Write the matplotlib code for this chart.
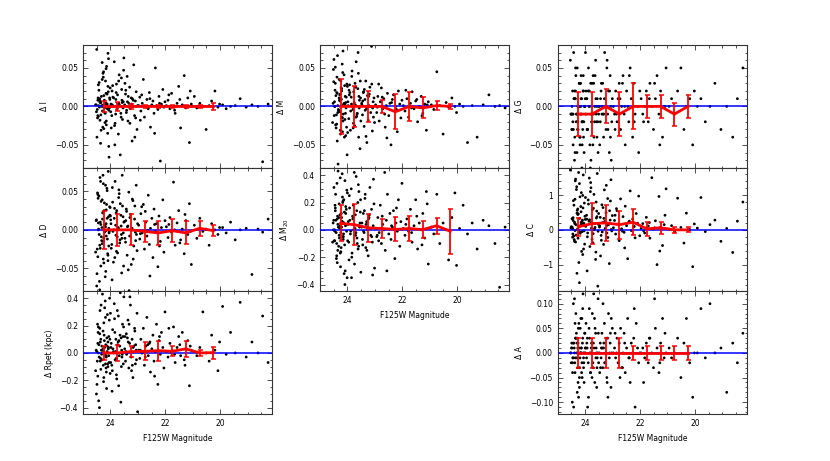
import matplotlib
matplotlib.use("Agg")
import matplotlib.pyplot as plt
from matplotlib.ticker import MultipleLocator, AutoMinorLocator

# F125W magnitudes of the galaxies (same sample in every panel)
mag = [
    24.52, 24.48, 24.45, 24.41, 24.38, 24.35, 24.31, 24.28, 24.25, 24.22,
    24.19, 24.16, 24.13, 24.10, 24.07, 24.04, 24.01, 24.50, 24.46, 24.43,
    24.39, 24.36, 24.33, 24.29, 24.26, 24.23, 24.20, 24.17, 24.14, 24.11,
    24.08, 24.05, 24.02, 24.54, 24.47, 24.44, 24.40, 24.37, 24.34, 24.30,
    24.27, 24.24, 24.21, 24.18, 24.15, 24.12, 24.09, 24.06, 24.03, 24.49,
    24.42, 24.32, 24.44, 24.37, 24.27, 24.21, 24.15, 24.09, 24.51, 24.39,
    24.30, 24.24, 24.18, 24.12, 24.06, 24.00, 24.46, 24.35, 24.26, 24.16,
    23.98, 23.95, 23.92, 23.89, 23.86, 23.83, 23.80, 23.77, 23.74, 23.71,
    23.68, 23.65, 23.62, 23.59, 23.56, 23.53, 23.51, 23.97, 23.93, 23.88,
    23.84, 23.79, 23.75, 23.70, 23.66, 23.61, 23.57, 23.52, 23.99, 23.91,
    23.85, 23.78, 23.72, 23.64, 23.58, 23.54, 23.94, 23.81, 23.69, 23.60,
    23.48, 23.45, 23.42, 23.39, 23.36, 23.33, 23.30, 23.27, 23.24, 23.21,
    23.18, 23.15, 23.12, 23.09, 23.06, 23.03, 23.01, 23.47, 23.41, 23.35,
    23.29, 23.23, 23.17, 23.11, 23.05, 23.44, 23.32, 23.20, 23.08, 23.38,
    22.97, 22.93, 22.89, 22.84, 22.80, 22.76, 22.71, 22.67, 22.62, 22.58,
    22.54, 22.49, 22.45, 22.41, 22.36, 22.32, 22.27, 22.23, 22.18, 22.14,
    22.09, 22.05, 22.01, 22.91, 22.73, 22.56, 22.39, 22.21, 22.86, 22.64,
    21.96, 21.90, 21.83, 21.77, 21.70, 21.64, 21.57, 21.51, 21.44, 21.38,
    21.31, 21.25, 21.18, 21.12, 21.05, 21.87, 21.66, 21.47, 21.28, 21.09,
    20.94, 20.85, 20.74, 20.63, 20.51, 20.40, 20.31, 20.19, 20.08, 20.02,
    19.91, 19.78, 19.62, 19.45, 19.27, 19.05, 18.84, 18.62, 18.45, 18.25,
]

d_I = [
    0.002, -0.004, 0.011, 0.031, -0.018, 0.005, 0.000, -0.027, 0.045, 0.008,
    -0.009, 0.017, 0.003, -0.035, 0.062, -0.002, 0.024, 0.074, -0.012, 0.001,
    0.006, -0.048, 0.013, -0.006, 0.038, 0.000, -0.021, 0.004, 0.052, -0.003,
    0.019, -0.066, 0.009, 0.002, -0.015, 0.028, -0.001, 0.007, -0.031, 0.057,
    0.000, 0.014, -0.008, 0.033, -0.024, 0.003, 0.069, -0.005, 0.011, -0.040,
    0.021, 0.001, -0.013, 0.005, 0.043, -0.002, -0.019, 0.026, -0.007, 0.010,
    0.035, -0.029, 0.004, 0.016, -0.052, 0.000, 0.008, -0.011, 0.002, 0.049,
    0.003, -0.012, 0.027, 0.000, 0.058, -0.022, 0.009, -0.004, 0.015, -0.036,
    0.041, 0.001, -0.009, 0.022, -0.017, 0.006, 0.063, -0.028, 0.002, 0.011,
    -0.050, 0.018, -0.003, 0.033, 0.000, -0.014, 0.005, 0.047, -0.007, 0.012,
    -0.025, 0.029, 0.001, -0.063, 0.008, -0.002, 0.020, -0.010, 0.004, 0.037,
    0.002, 0.016, -0.008, 0.039, -0.019, 0.004, 0.025, -0.003, 0.011, -0.045,
    0.000, 0.054, -0.012, 0.007, 0.019, -0.030, 0.001, 0.030, -0.005, 0.013,
    -0.022, 0.003, 0.008, -0.040, 0.000, 0.021, -0.001, 0.010, -0.015, 0.006,
    0.001, 0.012, -0.006, 0.004, 0.035, -0.014, 0.000, 0.009, -0.003, 0.018,
    -0.027, 0.002, 0.007, -0.009, 0.050, 0.001, -0.004, 0.013, -0.071, 0.003,
    0.022, -0.001, 0.006, -0.018, 0.000, 0.010, -0.035, 0.004, 0.015, -0.002,
    0.001, 0.008, -0.003, 0.017, 0.000, -0.009, 0.004, 0.026, -0.028, 0.002,
    0.040, -0.002, 0.011, -0.047, 0.003, 0.015, -0.005, 0.009, 0.000, 0.020,
    0.013, -0.002, 0.004, 0.000, -0.030, 0.001, 0.007, 0.020, -0.001, 0.003,
    0.002, -0.003, 0.000, 0.001, 0.010, -0.001, 0.002, 0.000, -0.072, 0.003,
]

d_D = [
    0.012, -0.025, 0.041, -0.006, 0.068, -0.047, 0.003, 0.022, -0.015, 0.035,
    -0.061, 0.008, 0.054, -0.031, 0.017, -0.002, 0.029, -0.073, 0.046, 0.001,
    -0.020, 0.063, -0.009, 0.014, -0.038, 0.025, 0.005, -0.054, 0.033, -0.012,
    0.076, -0.004, 0.019, -0.029, 0.048, 0.000, -0.067, 0.010, 0.037, -0.018,
    0.023, -0.043, 0.006, 0.058, -0.008, 0.015, -0.033, 0.002, 0.030, -0.057,
    0.044, -0.014, 0.009, -0.024, 0.071, -0.003, 0.026, -0.040, 0.013, -0.078,
    0.039, -0.011, 0.004, 0.051, -0.021, 0.018, -0.035, 0.007, 0.060, -0.001,
    0.008, -0.019, 0.036, -0.042, 0.015, 0.063, -0.007, 0.025, -0.030, 0.002,
    0.047, -0.013, 0.019, -0.056, 0.031, -0.004, 0.010, -0.024, 0.055, 0.000,
    -0.036, 0.022, -0.009, 0.042, -0.017, 0.005, 0.071, -0.047, 0.013, -0.002,
    0.028, -0.028, 0.003, 0.034, -0.011, 0.017, -0.065, 0.006, 0.052, -0.006,
    0.011, -0.016, 0.027, -0.033, 0.005, 0.049, -0.008, 0.020, -0.045, 0.002,
    0.038, -0.021, 0.014, -0.003, 0.058, -0.027, 0.008, -0.011, 0.024, -0.052,
    0.016, 0.000, -0.038, 0.031, -0.006, 0.012, -0.079, 0.040, -0.014, 0.004,
    0.006, -0.012, 0.021, -0.004, 0.033, -0.025, 0.010, -0.008, 0.045, -0.019,
    0.002, 0.015, -0.036, 0.027, -0.002, 0.008, -0.048, 0.018, -0.015, 0.003,
    0.039, -0.029, 0.012, -0.005, 0.024, -0.060, 0.007, -0.021, 0.030, -0.001,
    0.004, -0.010, 0.016, -0.003, 0.062, -0.020, 0.009, 0.025, -0.013, 0.001,
    -0.031, 0.012, -0.006, 0.034, -0.045, 0.007, 0.000, -0.017, 0.020, -0.002,
    0.006, -0.011, 0.015, -0.002, 0.001, -0.020, 0.008, 0.000, -0.006, 0.003,
    0.003, -0.004, 0.010, -0.013, 0.000, 0.002, -0.058, 0.001, -0.003, 0.014,
]

d_Rpet = [
    0.02, -0.06, 0.15, -0.03, 0.31, -0.12, 0.05, 0.00, -0.21, 0.09,
    0.38, -0.02, 0.11, -0.08, 0.04, 0.24, -0.15, 0.01, 0.07, -0.35,
    0.18, -0.04, 0.02, 0.43, -0.09, 0.13, -0.01, 0.06, -0.26, 0.28,
    0.03, -0.07, 0.10, -0.13, 0.21, 0.00, -0.40, 0.08, 0.35, -0.05,
    0.16, -0.18, 0.04, 0.26, -0.03, 0.01, -0.10, 0.12, 0.40, -0.23,
    0.06, -0.01, 0.19, -0.06, 0.03, 0.33, -0.14, 0.08, -0.30, 0.14,
    0.00, 0.22, -0.08, 0.05, -0.02, 0.29, -0.17, 0.10, 0.02, -0.11,
    0.04, -0.09, 0.17, 0.01, 0.36, -0.05, 0.10, -0.19, 0.06, 0.27,
    -0.02, 0.13, -0.36, 0.02, 0.21, -0.08, 0.41, 0.07, -0.13, 0.00,
    0.15, -0.04, 0.31, -0.24, 0.05, 0.11, -0.01, 0.19, -0.07, 0.03,
    0.25, -0.16, 0.08, 0.44, -0.03, 0.12, -0.28, 0.01, 0.09, -0.10,
    0.03, -0.06, 0.14, 0.00, 0.24, -0.11, 0.07, 0.35, -0.03, 0.10,
    -0.18, 0.05, 0.18, -0.08, 0.02, 0.29, -0.43, 0.12, -0.01, 0.08,
    0.41, -0.13, 0.04, 0.16, -0.05, 0.01, 0.21, -0.09, 0.06, 0.11,
    0.02, -0.04, 0.10, 0.00, 0.18, -0.09, 0.05, 0.26, -0.02, 0.07,
    -0.14, 0.03, 0.13, -0.06, 0.01, 0.21, -0.23, 0.09, -0.01, 0.15,
    0.04, -0.11, 0.30, 0.02, -0.03, 0.08, -0.17, 0.12, 0.00, 0.06,
    0.01, -0.03, 0.07, 0.00, 0.19, -0.07, 0.04, 0.12, -0.02, 0.15,
    -0.05, 0.03, 0.09, -0.24, 0.02, 0.18, -0.01, 0.06, -0.09, 0.05,
    0.01, -0.02, 0.04, 0.30, 0.00, -0.06, 0.13, 0.02, -0.13, 0.08,
    0.34, -0.01, 0.15, 0.00, 0.37, -0.03, 0.08, 0.00, 0.27, -0.07,
]

d_M = [
    0.004, -0.012, 0.021, -0.028, 0.038, 0.001, -0.006, 0.015, -0.036, 0.009,
    0.055, -0.019, 0.003, 0.027, -0.009, 0.012, -0.063, 0.032, 0.000, -0.024,
    0.018, 0.066, -0.004, 0.008, -0.031, 0.024, -0.014, 0.044, 0.002, -0.040,
    0.013, -0.002, 0.029, -0.021, 0.006, 0.051, -0.011, 0.017, -0.075, 0.035,
    -0.007, 0.010, 0.023, -0.033, 0.001, 0.041, -0.017, 0.005, -0.027, 0.061,
    0.014, -0.005, 0.030, -0.045, 0.007, 0.020, -0.010, 0.002, 0.048, -0.023,
    0.011, 0.033, -0.015, 0.004, -0.038, 0.026, 0.000, -0.008, 0.016, 0.072,
    0.006, -0.016, 0.028, -0.031, 0.012, 0.046, -0.004, 0.019, -0.025, 0.002,
    0.058, -0.010, 0.023, -0.040, 0.008, 0.033, -0.019, 0.001, 0.015, -0.006,
    0.039, -0.028, 0.005, 0.025, -0.013, 0.070, -0.002, 0.011, -0.034, 0.018,
    0.003, -0.022, 0.030, -0.009, 0.013, -0.055, 0.021, 0.000, -0.014, 0.043,
    0.004, -0.011, 0.018, -0.026, 0.009, 0.033, -0.003, 0.014, -0.018, 0.001,
    0.025, -0.008, 0.078, -0.032, 0.006, 0.011, -0.021, 0.002, 0.019, -0.005,
    -0.047, 0.013, 0.000, 0.029, -0.014, 0.007, -0.039, 0.016, -0.002, 0.022,
    0.002, -0.008, 0.013, -0.019, 0.006, 0.024, -0.003, 0.010, -0.027, 0.001,
    0.017, -0.012, 0.004, -0.050, 0.009, 0.015, -0.006, 0.000, -0.033, 0.020,
    0.003, -0.015, 0.008, -0.001, 0.012, -0.041, 0.005, -0.004, 0.029, -0.010,
    0.001, -0.006, 0.010, -0.014, 0.004, 0.019, -0.003, 0.007, -0.020, 0.000,
    0.013, -0.009, 0.003, -0.031, 0.006, 0.021, -0.002, 0.009, -0.012, 0.002,
    0.002, -0.004, 0.045, 0.001, -0.036, 0.005, -0.001, 0.011, 0.000, -0.008,
    0.003, 0.000, -0.047, 0.001, -0.040, 0.002, 0.015, 0.000, 0.001, -0.002,
]

d_M20 = [
    0.05, -0.08, 0.18, -0.02, 0.34, -0.15, 0.09, 0.01, -0.27, 0.12,
    0.41, -0.05, 0.22, -0.11, 0.03, 0.15, -0.35, 0.07, -0.01, 0.26,
    -0.19, 0.10, 0.02, -0.06, 0.38, -0.13, 0.06, 0.20, -0.03, 0.13,
    -0.30, 0.04, 0.29, -0.09, 0.00, 0.16, -0.21, 0.08, 0.43, -0.04,
    0.11, -0.16, 0.02, 0.24, -0.07, 0.05, -0.40, 0.17, -0.01, 0.31,
    0.07, -0.12, 0.14, -0.24, 0.03, 0.09, -0.05, 0.36, 0.00, -0.10,
    0.19, -0.02, 0.06, -0.32, 0.12, 0.27, -0.08, 0.04, -0.17, 0.21,
    0.04, -0.09, 0.16, -0.03, 0.30, -0.17, 0.08, 0.00, -0.25, 0.11,
    0.39, -0.06, 0.20, -0.12, 0.02, 0.13, -0.31, 0.06, 0.25, -0.01,
    -0.20, 0.09, 0.42, -0.04, 0.14, -0.14, 0.03, 0.22, -0.08, 0.07,
    -0.35, 0.18, 0.01, -0.10, 0.28, 0.05, -0.22, 0.10, -0.02, 0.33,
    0.02, -0.07, 0.12, -0.02, 0.23, -0.13, 0.06, 0.00, -0.19, 0.09,
    0.31, -0.04, 0.15, -0.09, 0.03, 0.19, -0.28, 0.05, -0.01, 0.26,
    -0.15, 0.08, 0.01, -0.05, 0.37, -0.11, 0.04, 0.11, -0.33, 0.14,
    0.01, -0.05, 0.09, -0.02, 0.18, -0.10, 0.04, 0.00, -0.15, 0.07,
    0.26, -0.03, 0.12, -0.07, 0.02, 0.14, -0.21, 0.05, -0.01, 0.22,
    -0.12, 0.06, 0.34, -0.04, 0.10, -0.30, 0.03, 0.16, -0.08, 0.42,
    0.01, -0.04, 0.08, -0.01, 0.15, -0.09, 0.03, 0.22, -0.14, 0.05,
    0.00, 0.12, -0.06, 0.28, -0.25, 0.04, -0.02, 0.10, -0.11, 0.19,
    0.02, -0.03, 0.26, -0.10, 0.05, 0.00, -0.22, 0.09, 0.27, -0.26,
    0.01, 0.18, -0.03, 0.05, -0.14, 0.07, 0.03, -0.10, -0.42, 0.02,
]

d_G = [
    -0.01, 0.00, -0.02, 0.01, -0.04, 0.02, -0.01, -0.03, 0.00, 0.03,
    -0.05, -0.01, 0.01, -0.02, 0.04, -0.06, 0.00, -0.01, 0.02, -0.03,
    -0.07, 0.01, -0.02, 0.05, -0.01, 0.00, -0.04, 0.03, -0.01, -0.05,
    0.02, -0.02, 0.00, 0.06, -0.03, -0.01, 0.01, -0.06, 0.04, -0.02,
    0.00, -0.01, 0.03, -0.04, 0.01, -0.08, -0.02, 0.02, 0.00, -0.03,
    0.07, -0.01, -0.05, 0.01, -0.02, 0.00, 0.04, -0.03, -0.01, 0.02,
    -0.06, 0.00, 0.03, -0.02, -0.04, 0.01, -0.01, 0.05, -0.03, 0.00,
    -0.01, 0.01, -0.03, 0.02, 0.00, -0.05, 0.03, -0.02, -0.01, 0.04,
    -0.04, 0.00, 0.06, -0.02, 0.01, -0.06, -0.01, 0.02, -0.03, 0.05,
    0.00, -0.07, 0.03, -0.01, -0.02, 0.01, -0.04, 0.00, 0.07, -0.03,
    0.02, -0.01, -0.05, 0.04, 0.00, -0.02, 0.01, -0.08, 0.03, -0.01,
    0.00, -0.02, 0.02, -0.01, 0.03, -0.04, 0.01, 0.00, -0.03, 0.05,
    -0.01, 0.02, -0.06, 0.04, 0.00, -0.02, 0.01, -0.05, 0.03, -0.01,
    0.07, 0.00, -0.03, 0.02, -0.07, 0.01, -0.01, 0.06, -0.04, 0.00,
    0.00, -0.01, 0.02, -0.02, 0.01, 0.03, -0.03, 0.00, 0.04, -0.01,
    -0.05, 0.02, 0.00, -0.02, 0.05, 0.01, -0.04, 0.03, -0.01, 0.08,
    0.00, -0.06, 0.02, -0.03, 0.01, 0.00, 0.04, -0.02, -0.01, 0.03,
    0.01, -0.01, 0.00, 0.02, -0.02, 0.03, 0.00, -0.03, 0.01, 0.04,
    -0.01, 0.02, -0.04, 0.00, 0.05, -0.02, 0.01, 0.03, -0.05, 0.00,
    0.00, 0.01, -0.01, 0.02, 0.05, -0.03, 0.00, 0.01, -0.05, 0.02,
    0.00, 0.01, -0.02, 0.00, 0.03, -0.03, 0.00, -0.04, 0.01, 0.05,
]

d_C = [
    0.05, 0.32, -0.12, 0.71, 0.18, -0.35, 1.24, 0.02, 0.46, -0.08,
    0.95, 0.14, -0.62, 0.28, 1.58, -0.03, 0.39, 0.09, -0.21, 0.84,
    0.22, 1.41, -0.15, 0.56, 0.01, -0.94, 0.33, 0.11, 1.07, -0.05,
    0.63, 0.19, -0.41, 1.72, 0.07, 0.27, -0.28, 0.88, 0.15, -1.25,
    0.44, 0.00, 1.33, -0.10, 0.52, 0.24, -0.71, 0.12, 0.77, 0.04,
    -0.18, 1.16, 0.35, -0.02, 0.60, -1.52, 0.21, 0.99, 0.08, -0.33,
    0.48, 1.65, -0.07, 0.16, -0.55, 0.30, 0.03, 1.46, -0.24, 0.67,
    0.10, 0.42, -0.20, 0.86, 0.25, -0.48, 1.36, 0.05, 0.58, -0.11,
    1.02, 0.18, -0.85, 0.34, 1.62, -0.04, 0.47, 0.13, -1.18, 0.74,
    0.29, 1.21, -0.27, 0.62, 0.02, -0.64, 0.38, 0.16, 0.93, -0.09,
    1.49, 0.21, -0.37, 0.07, 0.54, -1.62, 0.31, 1.10, 0.00, 0.80,
    0.08, 0.36, -0.16, 0.72, 0.21, -0.42, 1.15, 0.04, 0.49, -0.09,
    0.90, 0.15, -0.97, 0.28, 1.44, -0.03, 0.41, 0.11, -0.30, 0.64,
    0.24, 1.28, -0.22, 0.55, 0.01, -0.75, 0.33, 0.13, 0.83, -0.06,
    0.06, 0.27, -0.12, 0.55, 0.17, -0.31, 0.89, 0.03, 0.38, -0.07,
    0.68, 0.12, -0.83, 0.22, 1.12, -0.02, 0.31, 0.09, -0.23, 0.47,
    0.19, 0.97, -0.17, 0.42, 0.00, -0.52, 0.25, 0.10, 0.61, -0.04,
    0.04, 0.18, -0.09, 0.36, 0.11, -0.24, 1.50, 0.02, 0.26, -1.00,
    0.96, 0.08, -0.45, 0.15, 1.18, -0.03, 0.21, 0.06, -0.61, 0.42,
    0.02, 0.12, -0.06, 0.91, 0.07, -0.38, 0.48, 0.01, -1.06, 0.17,
    0.05, 0.93, -0.05, 0.15, 0.28, -0.33, 0.04, -0.65, 0.25, 0.80,
]

d_A = [
    0.00, 0.01, -0.01, 0.02, -0.02, 0.03, 0.00, -0.03, 0.05, 0.01,
    -0.01, 0.07, -0.04, 0.02, 0.00, -0.06, 0.04, 0.01, -0.02, 0.10,
    0.00, -0.01, 0.03, -0.08, 0.02, 0.06, -0.03, 0.00, 0.01, -0.05,
    0.12, -0.02, 0.04, 0.00, -0.10, 0.02, 0.01, -0.04, 0.08, -0.01,
    0.03, 0.00, -0.07, 0.05, 0.01, -0.02, 0.09, -0.03, 0.00, 0.02,
    -0.11, 0.04, -0.01, 0.06, 0.01, -0.05, 0.00, 0.03, -0.02, 0.11,
    0.02, -0.09, 0.00, 0.07, -0.01, 0.01, -0.04, 0.03, -0.06, 0.00,
    0.01, -0.01, 0.03, -0.02, 0.05, 0.00, -0.04, 0.02, 0.08, -0.03,
    0.01, -0.06, 0.04, 0.00, -0.01, 0.11, -0.02, 0.06, 0.01, -0.09,
    0.03, 0.00, -0.05, 0.02, 0.07, -0.01, -0.03, 0.04, 0.00, -0.11,
    0.09, 0.01, -0.02, 0.05, -0.07, 0.00, 0.02, -0.04, 0.12, 0.01,
    0.00, 0.02, -0.01, 0.04, -0.03, 0.01, 0.06, -0.02, 0.00, -0.05,
    0.03, 0.08, -0.01, 0.02, -0.07, 0.00, 0.05, -0.04, 0.01, 0.10,
    -0.02, 0.03, -0.09, 0.00, 0.07, -0.03, 0.02, -0.06, 0.04, 0.01,
    0.00, 0.01, -0.01, 0.03, -0.02, 0.02, 0.05, -0.03, 0.00, 0.04,
    -0.04, 0.01, 0.07, -0.01, -0.06, 0.02, 0.00, 0.03, -0.11, 0.06,
    0.01, -0.02, 0.00, 0.04, -0.05, 0.02, -0.01, 0.09, 0.00, -0.03,
    0.00, 0.01, -0.01, 0.02, -0.02, 0.03, 0.00, -0.03, 0.05, 0.01,
    -0.04, 0.02, 0.07, -0.01, 0.00, -0.06, 0.03, 0.11, -0.02, 0.04,
    0.01, -0.01, 0.00, 0.03, -0.05, 0.02, 0.07, -0.02, -0.09, 0.00,
    0.00, 0.09, -0.01, 0.10, 0.00, 0.01, -0.08, 0.02, -0.02, 0.04,
]

# binned medians and scatter (red line with error bars)
bin_mag = [24.25, 23.75, 23.25, 22.75, 22.25, 21.75, 21.25, 20.75, 20.25]

med_I = [0.000, 0.000, 0.000, 0.000, 0.000, 0.000, 0.000, 0.000, 0.000]
err_I = [0.0075, 0.0058, 0.0037, 0.002, 0.0015, 0.0015, 0.0015, 0.0015, 0.0047]
med_D = [0.000, 0.000, 0.000, -0.002, -0.004, -0.001, -0.004, 0.002, -0.001]
err_D = [0.025, 0.021, 0.020, 0.014, 0.016, 0.015, 0.015, 0.010, 0.0075]
med_Rpet = [0.000, 0.000, 0.010, 0.012, 0.017, 0.012, 0.030, 0.000, 0.002]
err_Rpet = [0.050, 0.056, 0.040, 0.067, 0.073, 0.037, 0.057, 0.020, 0.043]
med_M = [0.000, 0.000, 0.000, 0.000, -0.007, 0.000, -0.002, 0.001, 0.000]
err_M = [0.036, 0.027, 0.020, 0.008, 0.023, 0.019, 0.0136, 0.006, 0.003]
med_M20 = [0.047, 0.038, 0.015, 0.010, 0.003, 0.010, 0.002, 0.030, -0.010]
err_M20 = [0.132, 0.149, 0.104, 0.073, 0.088, 0.089, 0.061, 0.057, 0.163]
med_G = [-0.01, -0.01, 0.00, -0.01, 0.00, 0.00, 0.00, -0.01, 0.00]
err_G = [0.029, 0.029, 0.022, 0.029, 0.030, 0.015, 0.015, 0.015, 0.015]
med_C = [0.09, 0.18, 0.20, 0.15, 0.22, 0.03, 0.06, 0.00, 0.00]
err_C = [0.26, 0.58, 0.52, 0.40, 0.37, 0.20, 0.18, 0.095, 0.076]
med_A = [0.00, 0.00, 0.00, 0.00, 0.00, 0.00, 0.00, 0.00, 0.00]
err_A = [0.030, 0.030, 0.030, 0.031, 0.014, 0.014, 0.014, 0.014, 0.014]

SPINE = "#333333"


def setup_axis(ax, ylabel, ylim, ystep, show_x):
    ax.set_xlim(25, 18.1)
    ax.set_ylim(-ylim, ylim)
    ax.xaxis.set_major_locator(MultipleLocator(2))
    ax.xaxis.set_minor_locator(MultipleLocator(0.5))
    ax.yaxis.set_major_locator(MultipleLocator(ystep))
    ax.yaxis.set_minor_locator(AutoMinorLocator())
    ax.tick_params(which="both", direction="in", top=True, right=True,
                   labelsize=5.5, color=SPINE, width=0.6)
    ax.tick_params(which="major", length=3.5)
    ax.tick_params(which="minor", length=1.8)
    for sp in ax.spines.values():
        sp.set_color(SPINE)
        sp.set_linewidth(0.8)
    ax.set_ylabel(ylabel, fontsize=5.5)
    if show_x:
        ax.set_xlabel("F125W Magnitude", fontsize=5.5)
    else:
        ax.tick_params(labelbottom=False)


def draw_panel(ax, dvals, med, err):
    ax.scatter(mag, dvals, s=4, color="black", edgecolors="none", zorder=2)
    ax.axhline(0, color="blue", lw=1.1, zorder=3)
    ax.errorbar(bin_mag, med, yerr=err, color="red", lw=2.0,
                elinewidth=1.3, capsize=1.8, capthick=1.1, zorder=4)


def main() -> None:
    fig = plt.figure(figsize=(8.3, 4.61), dpi=100)
    w = 0.228
    h = 0.267
    cols = [0.1, 0.3855, 0.672]
    rows = [0.6357, 0.3679, 0.1009]

    panels = [
        # col, row, data, med, err, label, ylim, ystep, show_x
        (0, 0, d_I, med_I, err_I, "Δ I", 0.08, 0.05, False),
        (0, 1, d_D, med_D, err_D, "Δ D", 0.08, 0.05, False),
        (0, 2, d_Rpet, med_Rpet, err_Rpet, "Δ Rpet (kpc)", 0.45, 0.2, True),
        (1, 0, d_M, med_M, err_M, "Δ M", 0.08, 0.05, False),
        (1, 1, d_M20, med_M20, err_M20, "Δ M$_{20}$", 0.45, 0.2, True),
        (2, 0, d_G, med_G, err_G, "Δ G", 0.08, 0.05, False),
        (2, 1, d_C, med_C, err_C, "Δ C", 1.77, 1.0, False),
        (2, 2, d_A, med_A, err_A, "Δ A", 0.125, 0.05, True),
    ]
    for c, r, dvals, med, err, label, ylim, ystep, show_x in panels:
        ax = fig.add_axes([cols[c], rows[r], w, h])
        draw_panel(ax, dvals, med, err)
        setup_axis(ax, label, ylim, ystep, show_x)

    fig.savefig("out.png", dpi=100)
    plt.close(fig)


if __name__ == "__main__":
    main()
